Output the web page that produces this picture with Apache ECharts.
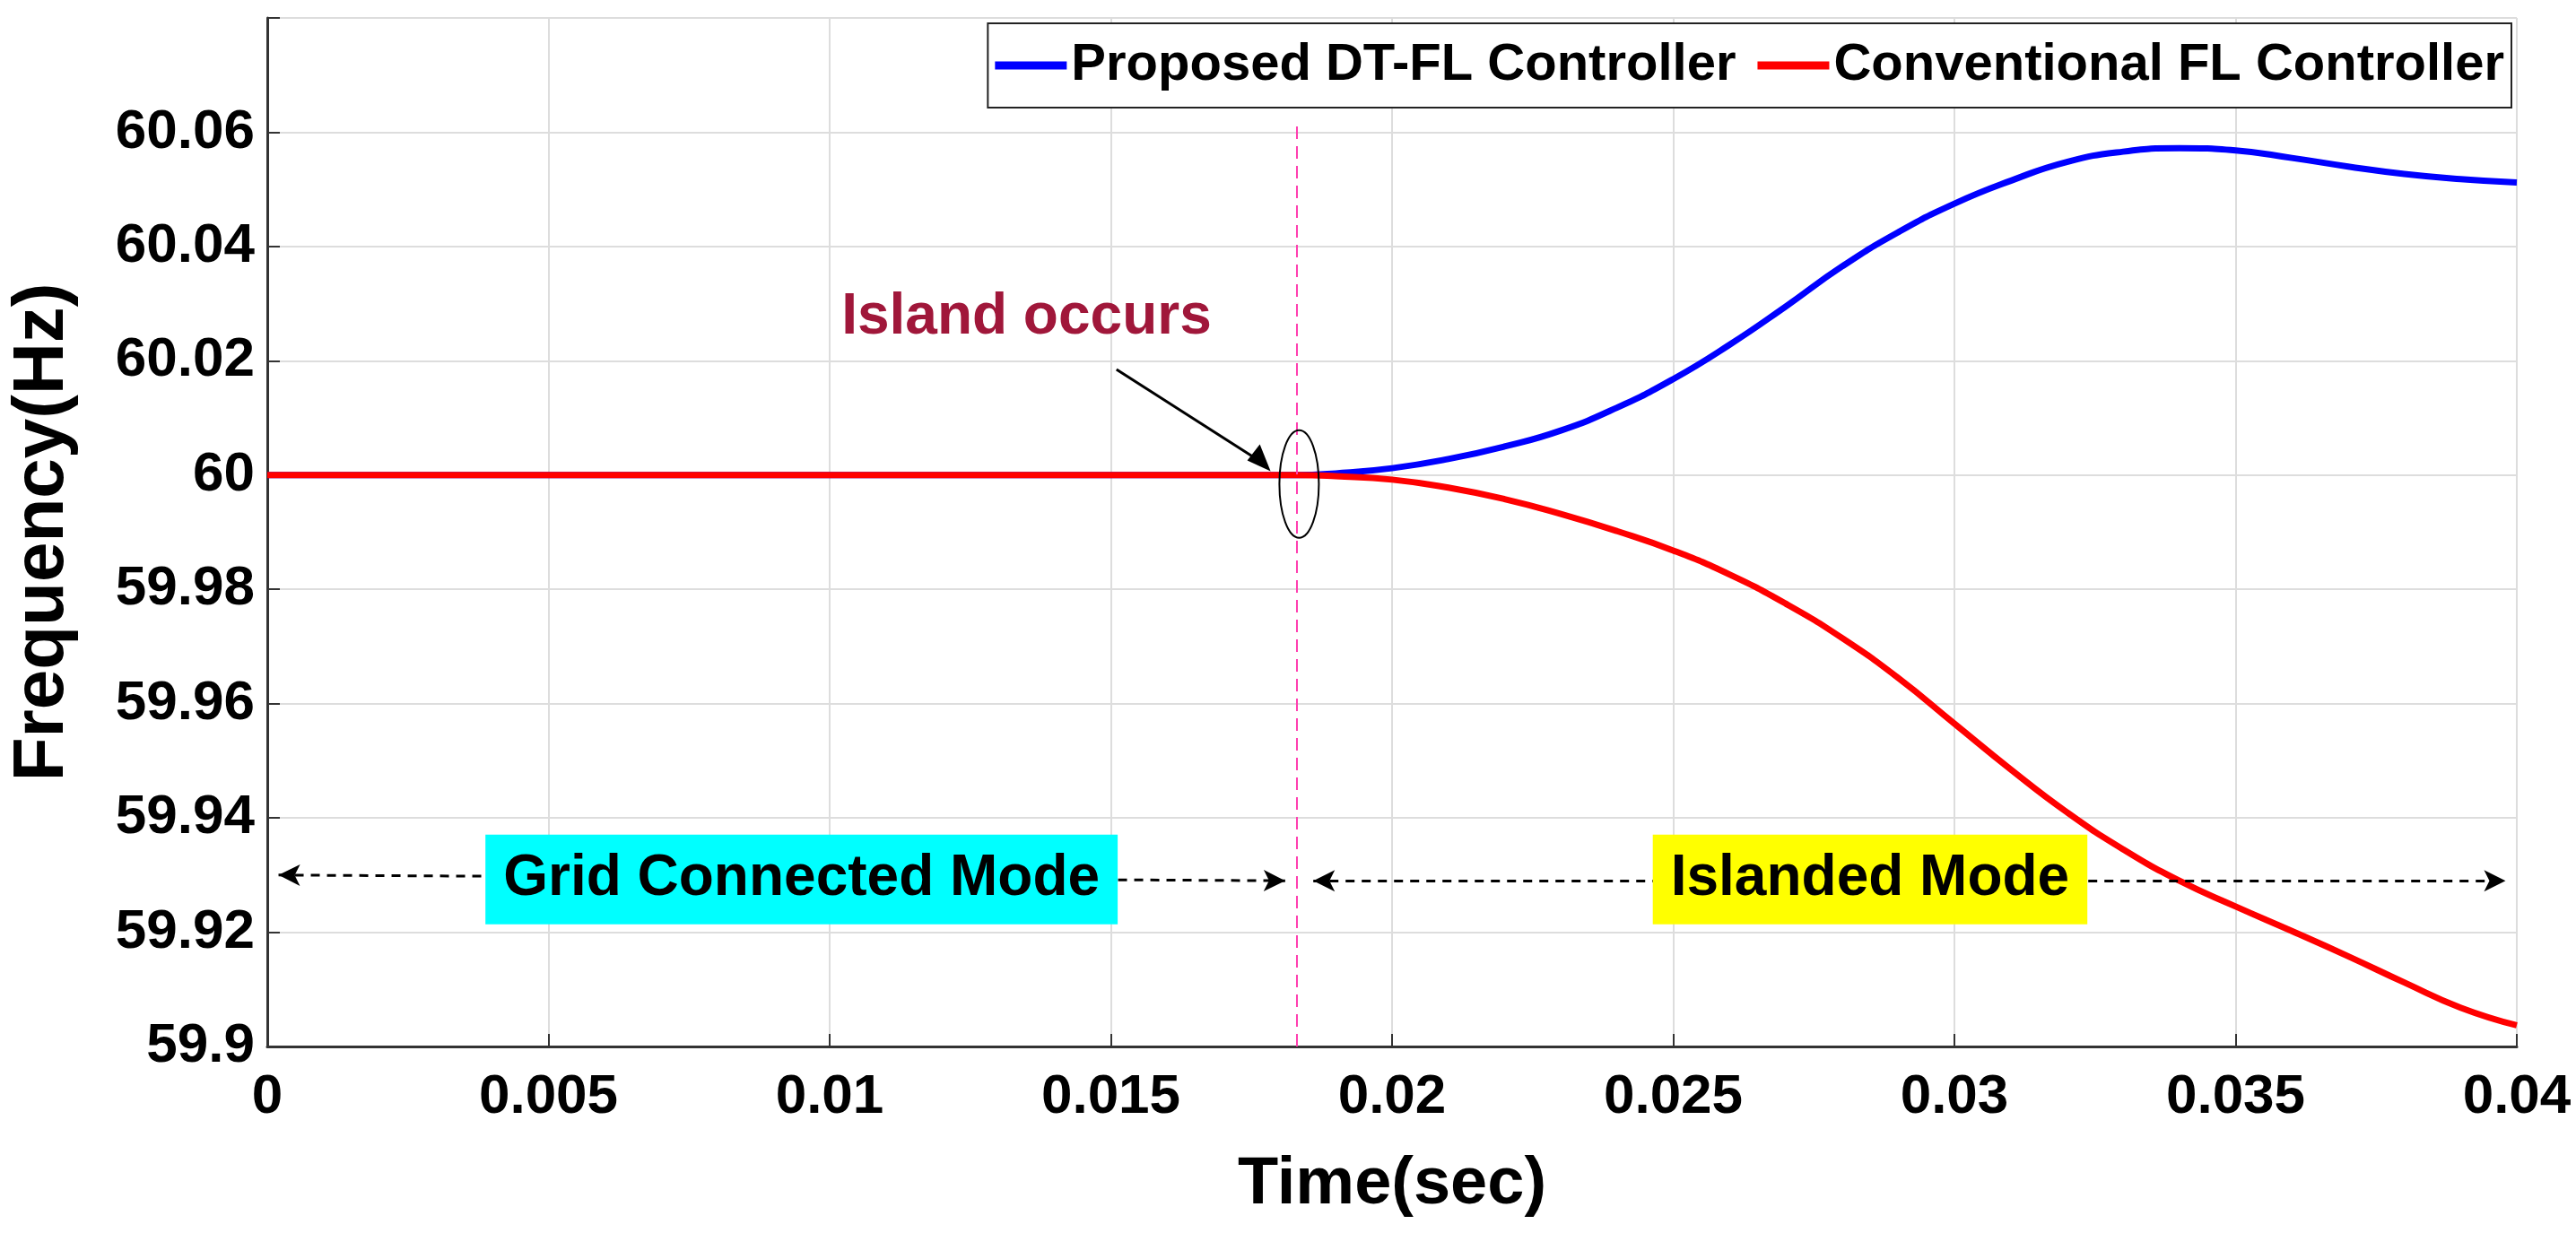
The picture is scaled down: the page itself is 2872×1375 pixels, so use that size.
<!DOCTYPE html>
<html><head><meta charset="utf-8">
<script src="https://cdn.jsdelivr.net/npm/echarts@6/dist/echarts.min.js"></script>
<style>html,body{margin:0;background:#fff}#c{width:2872px;height:1375px}</style>
</head><body><div id="c"></div>
<script>
const timeProposed = [0,0.005,0.01,0.015,0.0183,0.019,0.02,0.021,0.022,0.023,0.024,0.025,0.026,0.027,0.028,0.029,0.03,0.031,0.032,0.033,0.034,0.035,0.036,0.037,0.038,0.039,0.04];
const proposed = [60,60,60,60,60,60.0003,60.0012,60.0028,60.005,60.0078,60.0118,60.0168,60.0228,60.0295,60.0365,60.0425,60.0475,60.0515,60.0548,60.0566,60.0572,60.0568,60.0555,60.054,60.0527,60.0518,60.0512];
const conventional = [60,60,60,60,60,59.9998,59.9992,59.9978,59.9958,59.9932,59.9902,59.9868,59.9826,59.9775,59.9715,59.9645,59.9565,59.9485,59.941,59.9345,59.929,59.9245,59.9202,59.9158,59.9112,59.9068,59.9037];
const xTicks = [0,0.005,0.01,0.015,0.02,0.025,0.03,0.035,0.04];
const islandTime = 0.0183;
const modeLevel = 59.93;
const font = 'Liberation Sans';
const chart = echarts.init(document.getElementById('c'));
const mk = arr => timeProposed.map((t,i)=>[t,arr[i]]);
chart.setOption({
  animation:false,
  grid:{left:298,right:66,top:20,bottom:208},
  legend:{right:72,top:26,itemWidth:80,itemHeight:9,itemGap:24,
    backgroundColor:'#fff',borderColor:'#222',borderWidth:2,padding:[18,8],
    textStyle:{fontFamily:font,fontWeight:'bold',fontSize:58,color:'#000'},
    data:[{name:'Proposed DT-FL Controller',icon:'rect'},{name:'Conventional FL Controller',icon:'rect'}]},
  xAxis:{type:'value',min:0,max:0.04,interval:0.005,
    name:'Time(sec)',nameLocation:'middle',nameGap:118,
    nameTextStyle:{fontFamily:font,fontWeight:'bold',fontSize:74,color:'#000'},
    axisLine:{lineStyle:{color:'#333',width:3}},axisTick:{inside:true,length:14,lineStyle:{color:'#333',width:2}},
    axisLabel:{fontFamily:font,fontWeight:'bold',fontSize:62,color:'#000',margin:26,formatter:v=>String(+v.toFixed(3))},
    splitLine:{show:true,lineStyle:{color:'#ddd',width:2}}},
  yAxis:{type:'value',min:59.9,max:60.08,interval:0.02,
    name:'Frequency(Hz)',nameLocation:'middle',nameGap:210,
    nameTextStyle:{fontFamily:font,fontWeight:'bold',fontSize:80,color:'#000'},
    axisLine:{show:true,lineStyle:{color:'#333',width:3}},axisTick:{inside:true,length:14,lineStyle:{color:'#333',width:2}},
    axisLabel:{fontFamily:font,fontWeight:'bold',fontSize:62,color:'#000',margin:14,
      formatter:v=>{const r=Math.round(v*100)/100; return r>60.07?'':String(+r.toFixed(2));}},
    splitLine:{show:true,lineStyle:{color:'#ddd',width:2}}},
  series:[
    {name:'Proposed DT-FL Controller',type:'line',data:mk(proposed),smooth:0.5,showSymbol:false,
      itemStyle:{color:'#0000ff'},lineStyle:{color:'#0000ff',width:7},z:3},
    {name:'Conventional FL Controller',type:'line',data:mk(conventional),smooth:0.5,showSymbol:false,
      itemStyle:{color:'#ff0000'},lineStyle:{color:'#ff0000',width:7},z:4,
      markLine:{silent:true,symbol:'none',label:{show:false},
        lineStyle:{color:'#ff3fb0',type:[14,8],width:2},
        data:[[{coord:[islandTime,59.9]},{coord:[islandTime,60.062]}]]}},
    {name:'modes',type:'line',data:[],silent:true,
      markLine:{silent:true,symbol:['arrow','arrow'],symbolSize:[18,24],label:{show:false},
        lineStyle:{color:'#000',type:[10,8],width:3},
        data:[[{coord:[0.0002,modeLevel]},{coord:[0.0181,59.929]}],[{coord:[0.0186,59.929]},{coord:[0.0398,59.929]}]]}}
  ]
});
function place(){
  const p=(x,y)=>chart.convertToPixel({gridIndex:0},[x,y]);
  const c=p(islandTime,60);
  const g=p(0.0095,modeLevel), isl=p(0.0285,modeLevel), io=p(0.0135,60.0275);
  const a1=p(0.0151,60.0185), a2=p(0.018,60.001);
  chart.setOption({graphic:[
    {type:'ellipse',shape:{cx:c[0]+3,cy:c[1]+10,rx:22,ry:60},style:{fill:'none',stroke:'#000',lineWidth:2},z:10},
    {type:'line',shape:{x1:a1[0],y1:a1[1],x2:a2[0]-20,y2:a2[1]-8},style:{stroke:'#000',lineWidth:3},z:10},
    {type:'polygon',shape:{points:[[a2[0]-10,a2[1]+2],[a2[0]-36,a2[1]-10],[a2[0]-22,a2[1]-28]]},style:{fill:'#000'},z:10},
    {type:'text',x:io[0],y:io[1],style:{text:'Island occurs',fontFamily:font,fontWeight:'bold',fontSize:64,fill:'#a0173a',align:'center',verticalAlign:'middle'},z:10},
    {type:'text',x:g[0],y:g[1]+5,style:{text:'Grid Connected Mode',fontFamily:font,fontWeight:'bold',fontSize:64,fill:'#000',backgroundColor:'#00ffff',padding:[20,20,16,20],align:'center',verticalAlign:'middle'},z:10},
    {type:'text',x:isl[0],y:isl[1]+5,style:{text:'Islanded Mode',fontFamily:font,fontWeight:'bold',fontSize:64,fill:'#000',backgroundColor:'#ffff00',padding:[20,20,16,20],align:'center',verticalAlign:'middle'},z:10}
  ]});
}
place();
</script></body></html>
